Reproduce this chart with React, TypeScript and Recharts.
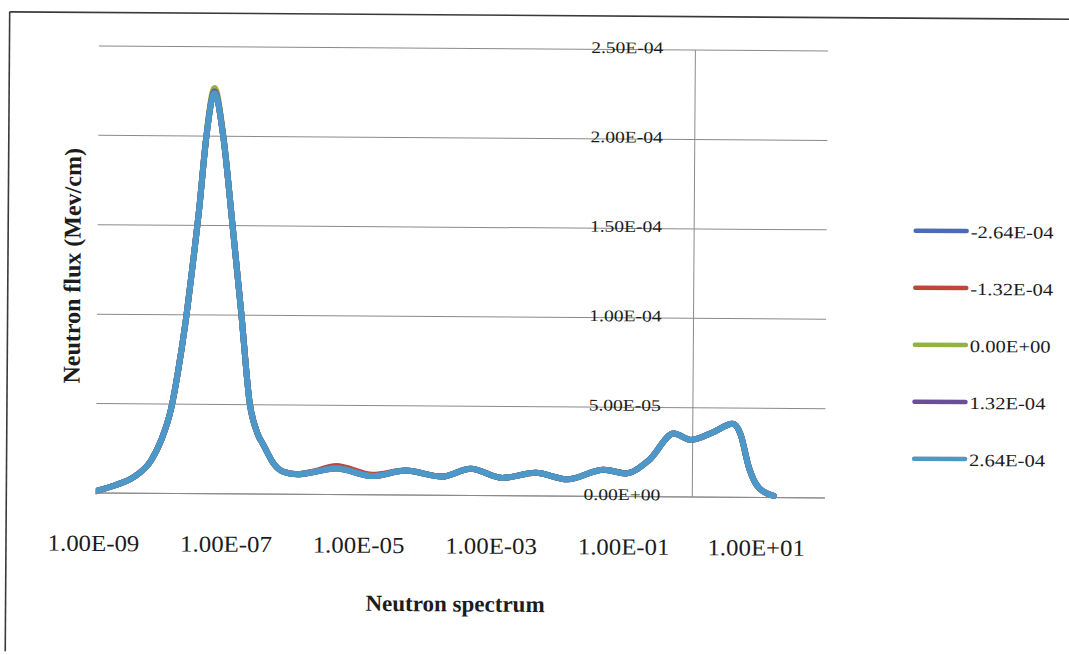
import React from 'react';
import { LineChart, Line, XAxis, YAxis, CartesianGrid, ReferenceLine } from 'recharts';

// neutron energy (MeV), log axis
const energy = [
  1.0e-9, 2.0e-9, 3.7e-9, 6.8e-9, 9.5e-9, 1.35e-8, 1.7e-8, 2.15e-8, 2.7e-8, 3.4e-8,
  4.25e-8, 5.6e-8, 7.6e-8, 1.07e-7, 1.5e-7, 2.05e-7, 2.7e-7, 3.4e-7, 4.8e-7, 6.8e-7,
  1.1e-6, 2.0e-6, 4.2e-6, 1.5e-5, 4.7e-5, 1.66e-4, 4.5e-4, 1.35e-3, 4.3e-3, 1.3e-2,
  4.6e-2, 9.8e-2, 0.22, 0.52, 0.93, 2.0, 4.0, 5.25, 7.1, 10.0, 17.0,
];

// flux per position
const fluxM264 = [
  1.0e-6, 4.5e-6, 9.0e-6, 1.85e-5, 2.95e-5, 4.8e-5, 6.9e-5, 9.5e-5, 1.26e-4, 1.6e-4,
  1.99e-4, 2.245e-4, 2.01e-4, 1.52e-4, 1.01e-4, 5.1e-5, 3.4e-5, 2.7e-5, 1.7e-5, 1.25e-5,
  1.12e-5, 1.27e-5, 1.48e-5, 1.06e-5, 1.37e-5, 1.05e-5, 1.5e-5, 1.0e-5, 1.3e-5, 9.5e-6,
  1.5e-5, 1.3e-5, 2.05e-5, 3.55e-5, 3.2e-5, 3.62e-5, 4.12e-5, 3.55e-5, 1.68e-5, 5.6e-6, 1.0e-6,
];
const fluxM132 = [
  1.0e-6, 4.5e-6, 9.0e-6, 1.85e-5, 2.95e-5, 4.8e-5, 6.9e-5, 9.5e-5, 1.26e-4, 1.6e-4,
  1.99e-4, 2.25e-4, 2.01e-4, 1.52e-4, 1.01e-4, 5.1e-5, 3.4e-5, 2.7e-5, 1.7e-5, 1.25e-5,
  1.13e-5, 1.3e-5, 1.6e-5, 1.12e-5, 1.37e-5, 1.05e-5, 1.5e-5, 1.0e-5, 1.3e-5, 9.5e-6,
  1.5e-5, 1.3e-5, 2.05e-5, 3.55e-5, 3.2e-5, 3.62e-5, 4.12e-5, 3.55e-5, 1.68e-5, 5.6e-6, 1.0e-6,
];
const flux000 = [
  1.0e-6, 4.5e-6, 9.0e-6, 1.85e-5, 2.95e-5, 4.8e-5, 6.9e-5, 9.5e-5, 1.26e-4, 1.6e-4,
  2.0e-4, 2.27e-4, 2.02e-4, 1.52e-4, 1.01e-4, 5.1e-5, 3.4e-5, 2.7e-5, 1.7e-5, 1.25e-5,
  1.12e-5, 1.27e-5, 1.47e-5, 1.05e-5, 1.37e-5, 1.05e-5, 1.5e-5, 1.0e-5, 1.3e-5, 9.5e-6,
  1.5e-5, 1.3e-5, 2.05e-5, 3.55e-5, 3.2e-5, 3.62e-5, 4.12e-5, 3.55e-5, 1.68e-5, 5.6e-6, 1.0e-6,
];
const fluxP132 = [
  1.0e-6, 4.5e-6, 9.0e-6, 1.85e-5, 2.95e-5, 4.8e-5, 6.9e-5, 9.5e-5, 1.26e-4, 1.6e-4,
  1.99e-4, 2.25e-4, 2.01e-4, 1.52e-4, 1.01e-4, 5.1e-5, 3.4e-5, 2.7e-5, 1.7e-5, 1.25e-5,
  1.12e-5, 1.27e-5, 1.46e-5, 1.05e-5, 1.37e-5, 1.05e-5, 1.5e-5, 1.0e-5, 1.3e-5, 9.5e-6,
  1.5e-5, 1.3e-5, 2.05e-5, 3.55e-5, 3.2e-5, 3.62e-5, 4.12e-5, 3.55e-5, 1.68e-5, 5.6e-6, 1.0e-6,
];
const fluxP264 = [
  1.0e-6, 4.5e-6, 9.0e-6, 1.85e-5, 2.95e-5, 4.8e-5, 6.9e-5, 9.5e-5, 1.26e-4, 1.6e-4,
  1.99e-4, 2.24e-4, 2.01e-4, 1.52e-4, 1.01e-4, 5.1e-5, 3.4e-5, 2.7e-5, 1.7e-5, 1.25e-5,
  1.12e-5, 1.27e-5, 1.46e-5, 1.05e-5, 1.37e-5, 1.05e-5, 1.5e-5, 1.0e-5, 1.3e-5, 9.5e-6,
  1.5e-5, 1.3e-5, 2.05e-5, 3.55e-5, 3.2e-5, 3.62e-5, 4.12e-5, 3.55e-5, 1.68e-5, 5.6e-6, 1.0e-6,
];

const seriesNames = ['-2.64E-04', '-1.32E-04', '0.00E+00', '1.32E-04', '2.64E-04'];
const seriesColors = ['#4a6cb3', '#c0453b', '#94b143', '#6b4f96', '#4b98c9'];
const seriesValues = [fluxM264, fluxM132, flux000, fluxP132, fluxP264];

const xTicks = [1e-9, 1e-7, 1e-5, 1e-3, 1e-1, 1e1];
const xTickLabels = ['1.00E-09', '1.00E-07', '1.00E-05', '1.00E-03', '1.00E-01', '1.00E+01'];
const yTicks = [0, 5e-5, 1e-4, 1.5e-4, 2e-4, 2.5e-4];
const yTickLabels = ['0.00E+00', '5.00E-05', '1.00E-04', '1.50E-04', '2.00E-04', '2.50E-04'];

const chartData = energy.map((e, i) => {
  const row: Record<string, number> = { energy: e };
  seriesValues.forEach((vals, k) => {
    row[`s${k}`] = vals[i];
  });
  return row;
});

// layout
const W = 1069;
const H = 655;
const PLOT_LEFT = 97;
const PLOT_RIGHT = 826;
const PLOT_TOP = 49;
const PLOT_BOTTOM = 496;
const Y_AXIS_W = 60;
const X_AXIS_H = 30;
const X_MIN = 1e-9;
const X_MAX = 100;
const FONT = '"Liberation Serif", "Times New Roman", serif';
const TEXT = '#1c1c1c';
const GRID = '#8a8a8a';

// y axis crosses at x = 1
const CROSS_X =
  PLOT_LEFT +
  ((PLOT_RIGHT - PLOT_LEFT) * (0 - Math.log10(X_MIN))) / (Math.log10(X_MAX) - Math.log10(X_MIN));

const XTick = (props: any) => {
  const { x, payload } = props;
  const label = xTickLabels[xTicks.indexOf(payload.value)];
  return (
    <text
      transform={`translate(${x - 2}, ${PLOT_BOTTOM + 58}) scale(1.08, 1)`}
      textAnchor="middle"
      fontFamily={FONT}
      fontSize={23}
      fill={TEXT}
    >
      {label}
    </text>
  );
};

const YTick = (props: any) => {
  const { y, payload } = props;
  const label = yTickLabels[yTicks.indexOf(payload.value)];
  return (
    <text
      transform={`translate(${CROSS_X - 32}, ${y + 3.5}) scale(1.2, 1)`}
      textAnchor="end"
      fontFamily={FONT}
      fontSize={16.3}
      fill={TEXT}
    >
      {label}
    </text>
  );
};

export default function App() {
  return (
    <div
      style={{
        position: 'absolute',
        left: 0,
        top: 0,
        width: W,
        height: H,
        background: '#fff',
        transform: 'rotate(0.4deg)',
        transformOrigin: '50% 50%',
      }}
    >
      <LineChart
        width={W}
        height={H}
        data={chartData}
        margin={{
          top: PLOT_TOP,
          right: W - PLOT_RIGHT,
          bottom: H - PLOT_BOTTOM - X_AXIS_H,
          left: PLOT_LEFT - Y_AXIS_W,
        }}
      >
        <CartesianGrid vertical={false} stroke={GRID} />
        <XAxis
          dataKey="energy"
          type="number"
          scale="log"
          domain={[X_MIN, X_MAX]}
          ticks={xTicks}
          interval={0}
          allowDataOverflow
          height={X_AXIS_H}
          tickLine={false}
          axisLine={{ stroke: GRID }}
          tick={<XTick />}
        />
        <YAxis
          type="number"
          domain={[0, 2.5e-4]}
          ticks={yTicks}
          interval={0}
          width={Y_AXIS_W}
          axisLine={false}
          tickLine={false}
          tick={<YTick />}
        />
        <ReferenceLine x={1} stroke={GRID} />
        {seriesNames.map((name, k) => (
          <Line
            key={name}
            name={name}
            dataKey={`s${k}`}
            type="monotone"
            stroke={seriesColors[k]}
            strokeWidth={6}
            strokeLinejoin="round"
            strokeLinecap="round"
            dot={false}
            isAnimationActive={false}
          />
        ))}
      </LineChart>

      <svg
        width={W}
        height={H}
        style={{ position: 'absolute', left: 0, top: 0, pointerEvents: 'none' }}
      >
        {/* frame */}
        <line x1={7.5} y1={15.5} x2={W + 10} y2={15.5} stroke="#3a3a3a" strokeWidth={1.6} />
        <line x1={7.5} y1={15.5} x2={7.5} y2={H + 10} stroke="#3a3a3a" strokeWidth={1.6} />

        {/* axis titles */}
        <text
          x={457}
          y={612}
          textAnchor="middle"
          fontFamily={FONT}
          fontWeight="bold"
          fontSize={23}
          fill={TEXT}
        >
          Neutron spectrum
        </text>
        <text
          transform="translate(80, 269) rotate(-90)"
          textAnchor="middle"
          fontFamily={FONT}
          fontWeight="bold"
          fontSize={24}
          fill={TEXT}
        >
          Neutron flux (Mev/cm)
        </text>

        {/* legend */}
        {seriesNames.map((name, k) => {
          const cy = 228 + k * 57;
          return (
            <g key={name}>
              <line
                x1={915}
                y1={cy}
                x2={966}
                y2={cy}
                stroke={seriesColors[k]}
                strokeWidth={4.5}
                strokeLinecap="round"
              />
              <text
                transform={`translate(970, ${cy + 7}) scale(1.19, 1)`}
                fontFamily={FONT}
                fontSize={17.3}
                fill={TEXT}
              >
                {name}
              </text>
            </g>
          );
        })}
      </svg>
    </div>
  );
}
